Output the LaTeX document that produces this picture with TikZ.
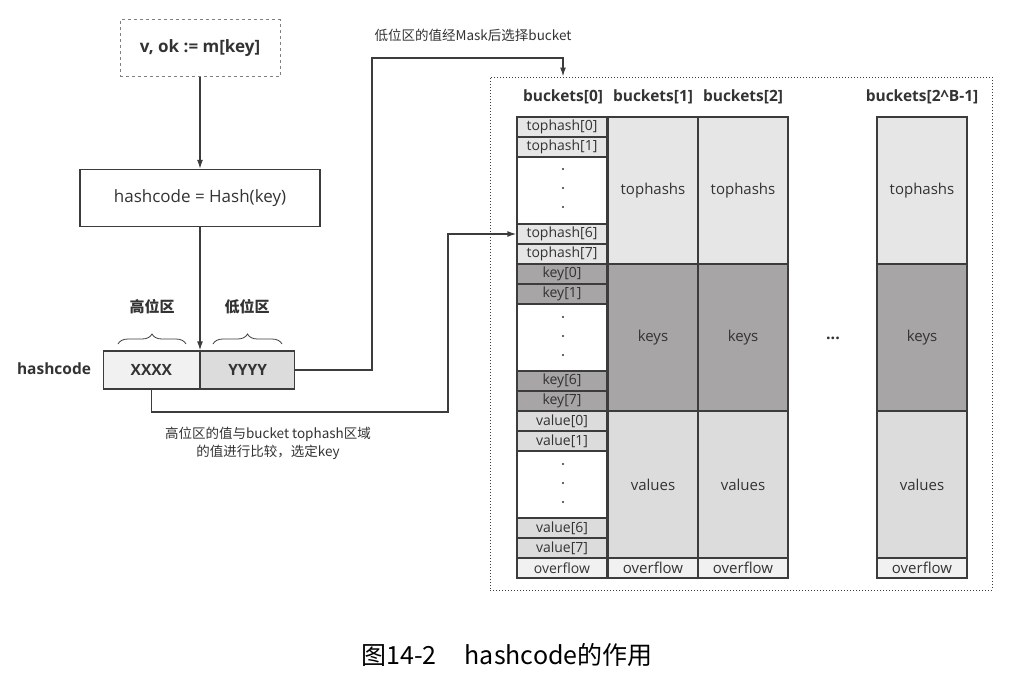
\documentclass[tikz,border=0pt]{standalone}
\usepackage{fontspec}
\setmainfont{Open Sans}
\newfontfamily\cjk{Noto Sans CJK SC}
\usetikzlibrary{decorations.pathreplacing, arrows.meta}
\definecolor{ln}{HTML}{3C3C3C}
\definecolor{txt}{HTML}{333333}
\definecolor{thc}{HTML}{E6E6E6}
\definecolor{keyc}{HTML}{A7A5A5}
\definecolor{valc}{HTML}{DCDCDC}
\definecolor{ovc}{HTML}{F1F1F1}

\begin{document}
\begin{tikzpicture}[x=1pt, y=-1pt]
	\tikzstyle{every node}=[inner sep=0pt, align=center, text=txt]
	\tikzstyle{box}=[draw=ln, line width=1.3pt]
	\tikzstyle{cell}=[box, minimum width=90pt, minimum height=20pt, font=\fontsize{14}{15}\selectfont]
	\tikzstyle{part}=[box, minimum width=90pt, font=\fontsize{15}{17}\selectfont]
	\tikzstyle{head}=[font=\bfseries\fontsize{15.5}{17}\selectfont]
	\tikzstyle{note}=[font=\cjk\fontsize{13.5}{18}\selectfont]
	\tikzstyle{link}=[draw=ln, line width=1.3pt, >={Latex[length=9pt, width=6pt]}]
	\useasboundingbox (0,0) rectangle (1024,678);

	% left side: lookup and hash
	\node[box, dashed, draw=gray, line width=1pt, minimum width=160pt, minimum height=57pt, font=\bfseries\fontsize{17}{19}\selectfont] (lookup) at (200,48) {v, ok := m[key]};
	\node[box, minimum width=240pt, minimum height=57pt, font=\fontsize{17}{19}\selectfont] (hash) at (200,198) {hashcode = Hash(key)};
	\node[box, fill=ovc, minimum width=96pt, minimum height=38pt, font=\bfseries\fontsize{15.5}{17}\selectfont, anchor=east] (xx) at (200,370) {XXXX};
	\node[box, fill=valc, minimum width=94pt, minimum height=38pt, font=\bfseries\fontsize{15.5}{17}\selectfont, anchor=west] (yy) at (200,370) {YYYY};
	\node[head] (hc) at (54,369) {hashcode};
	\node[font=\cjk\bfseries\fontsize{15}{17}\selectfont] (hi) at (152,307) {高位区};
	\node[font=\cjk\bfseries\fontsize{15}{17}\selectfont] (lo) at (247,307) {低位区};
	\draw[ln, line width=0.8pt, decorate, decoration={brace, amplitude=10pt}] (118,344) -- (186,344);
	\draw[ln, line width=0.8pt, decorate, decoration={brace, amplitude=10pt}] (213,344) -- (282,344);

	\draw[link, ->] (lookup) -- (hash);
	\draw[link, ->] (hash) -- (xx.north east);

	% buckets
	\node[draw=ln, dotted, line width=1pt, minimum width=502pt, minimum height=513pt] (frame) at (741,333.5) {};
	\node[head] (h0) at (563,97) {buckets[0]};
	\node[head] (h1) at (653,97) {buckets[1]};
	\node[head] (h2) at (743,97) {buckets[2]};
	\node[head] (h3) at (922,97) {buckets[2\^{}B-1]};

	\node[box, minimum width=90pt, minimum height=461pt] (col0) at (562,347.5) {};
	\foreach \i/\y in {0/127,1/147,6/234,7/254}
		\node[cell, fill=thc] (th\i) at (562,\y) {tophash[\i]};
	\foreach \i/\y in {0/274,1/294,6/381,7/401}
		\node[cell, fill=keyc] (k\i) at (562,\y) {key[\i]};
	\foreach \i/\y in {0/421,1/441,6/528,7/548}
		\node[cell, fill=valc] (v\i) at (562,\y) {value[\i]};
	\node[cell, fill=ovc] (of0) at (562,568) {overflow};
	\foreach \y in {188,336,483}
		\foreach \d in {-19,0,19}
			\fill[txt] (563,\y+\d) circle (1.1pt);

	\foreach \n/\x in {1/653,2/743,3/922} {
		\node[part, fill=thc, minimum height=147pt] (t\n) at (\x,190.5) {tophashs};
		\node[part, fill=keyc, minimum height=147pt] (k\n) at (\x,337.5) {keys};
		\node[part, fill=valc, minimum height=147pt] (v\n) at (\x,484.5) {values};
		\node[part, fill=ovc, minimum height=20pt] (o\n) at (\x,568) {overflow};
	}
	\node[font=\bfseries\fontsize{16}{17}\selectfont] (more) at (833,338) {...};

	% connectors
	\coordinate (m1) at (372,58);
	\coordinate (c1) at (448,412);
	\draw[link, ->] (yy.east) -| (m1) -| (h0 |- frame.north);
	\draw[link, ->] (xx.south) |- (c1) |- (th6.west);
	\node[note] (masknote) at (473,35) {低位区的值经Mask后选择bucket};
	\node[note] (cmpnote) at (268,443) {高位区的值与bucket tophash区域\\的值进行比较，选定key};

	% caption
	\node[font=\cjk\fontsize{25}{27}\selectfont, text=black] (cap) at (507,655) {图14-2\hspace{28pt}hashcode的作用};
\end{tikzpicture}
\end{document}
